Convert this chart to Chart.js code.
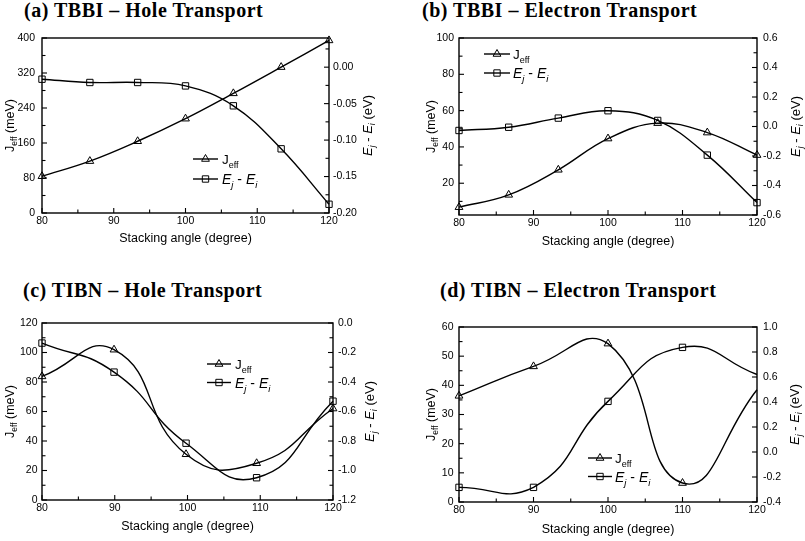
<!DOCTYPE html>
<html><head><meta charset="utf-8">
<script src="https://cdn.jsdelivr.net/npm/chart.js@4.4.0/dist/chart.umd.min.js"></script>
<style>
html,body{margin:0;padding:0;background:#fff}
body{width:805px;height:541px;overflow:hidden;position:relative;font-family:'Liberation Sans',Arial,sans-serif}
canvas{position:absolute}
.ttl{position:absolute;font-family:'Liberation Serif','Times New Roman',serif;font-weight:bold;font-size:20px;line-height:20px;letter-spacing:0.5px;white-space:nowrap;color:#000}
</style></head><body>
<div class="ttl" style="left:24px;top:0px">(a) TBBI – Hole Transport</div>
<div class="ttl" style="left:422px;top:0px">(b) TBBI – Electron Transport</div>
<div class="ttl" style="left:23px;top:280px">(c) TIBN – Hole Transport</div>
<div class="ttl" style="left:440px;top:280px">(d) TIBN – Electron Transport</div>
<canvas id="ca" width="400" height="270" style="left:0;top:0"></canvas>
<canvas id="cb" width="405" height="270" style="left:400px;top:0"></canvas>
<canvas id="cc" width="400" height="271" style="left:0;top:270px"></canvas>
<canvas id="cd" width="405" height="271" style="left:400px;top:270px"></canvas>
<script>
// ---------- data ----------
const anglesA = [80, 86.67, 93.33, 100, 106.67, 113.33, 120];
const jeffA   = [84, 118.6, 164, 215.6, 273.5, 333.5, 394.5];
const deltaEA = [-0.0165, -0.021, -0.021, -0.0257, -0.053, -0.112, -0.188];

const anglesB = [80, 86.67, 93.33, 100, 106.67, 113.33, 120];
const jeffB   = [6.8, 13.6, 27.4, 44.6, 53.1, 47.9, 35.5];
const deltaEB = [-0.027, -0.005, 0.057, 0.107, 0.041, -0.194, -0.516];

const anglesC = [80, 89.9, 99.8, 109.5, 120];
const jeffC   = [83.8, 101.9, 31.0, 24.9, 62];
const deltaEC = [-0.136, -0.333, -0.815, -1.049, -0.53];

const anglesD = [80, 90, 100, 110, 120];
const jeffD   = [36.4, 46.5, 54.3, 6.5, 38.5];
const deltaED = [-0.283, -0.283, 0.405, 0.837, 0.62];

// ---------- tick labels ----------
const xTicks    = [80, 90, 100, 110, 120];
const jeffTicksA = [0, 80, 160, 240, 320, 400];
const dETicksA   = [0.00, -0.05, -0.10, -0.15, -0.20];
const jeffTicksB = [20, 40, 60, 80, 100];
const dETicksB   = [0.6, 0.4, 0.2, 0.0, -0.2, -0.4, -0.6];
const jeffTicksC = [0, 20, 40, 60, 80, 100, 120];
const dETicksC   = [0.0, -0.2, -0.4, -0.6, -0.8, -1.0, -1.2];
const jeffTicksD = [0, 10, 20, 30, 40, 50, 60];
const dETicksD   = [1.0, 0.8, 0.6, 0.4, 0.2, 0.0, -0.2, -0.4];

const xTitle = 'Stacking angle (degree)';

// ---------- decoration plugin (frame, inner ticks, rotated axis titles, legend) ----------
function drawPieces(ctx, pieces, x, y, family) {
  let cx = x;
  for (const p of pieces) {
    ctx.font = (p.style || '') + ' ' + p.size + 'px ' + family;
    ctx.fillText(p.t, cx, y + (p.dy || 0));
    cx += ctx.measureText(p.t).width;
  }
}
function piecesWidth(ctx, pieces, family) {
  let w = 0;
  for (const p of pieces) { ctx.font = (p.style || '') + ' ' + p.size + 'px ' + family; w += ctx.measureText(p.t).width; }
  return w;
}
function marker(ctx, type, x, y, r) {
  ctx.beginPath();
  if (type === 'triangle') {
    let rad = 0;
    ctx.moveTo(x + Math.sin(rad) * r, y - Math.cos(rad) * r);
    rad += 2 * Math.PI / 3; ctx.lineTo(x + Math.sin(rad) * r, y - Math.cos(rad) * r);
    rad += 2 * Math.PI / 3; ctx.lineTo(x + Math.sin(rad) * r, y - Math.cos(rad) * r);
    ctx.closePath();
  } else {
    const s = Math.SQRT1_2 * r;
    ctx.rect(x - s, y - s, 2 * s, 2 * s);
  }
  ctx.stroke();
}
const FAM = "'Liberation Sans', Arial, sans-serif";
const leftTitle = [{t:'J',size:12.5},{t:'eff',size:8.5,dy:3},{t:' (meV)',size:12.5}];
const rightTitle = [{t:'E',size:13,style:'italic'},{t:'j',size:9,style:'italic',dy:3},{t:' - ',size:13},{t:'E',size:13,style:'italic'},{t:'i',size:9,style:'italic',dy:3},{t:' (eV)',size:13}];
const legJ = [{t:'J',size:13.5},{t:'eff',size:9,dy:4}];
const legE = [{t:'E',size:14,style:'italic'},{t:'j',size:9.5,style:'italic',dy:4},{t:' - ',size:14},{t:'E',size:14,style:'italic'},{t:'i',size:9.5,style:'italic',dy:4}];

const decor = {
  id: 'decor',
  beforeDatasetsDraw(chart, args, o) {
    const {ctx, chartArea: a, scales} = chart;
    ctx.save();
    ctx.strokeStyle = '#000';
    ctx.lineWidth = 1.4;
    ctx.strokeRect(a.left, a.top, a.right - a.left, a.bottom - a.top);
    ctx.lineWidth = 1.1;
    const seg = (x1, y1, x2, y2) => { ctx.beginPath(); ctx.moveTo(x1, y1); ctx.lineTo(x2, y2); ctx.stroke(); };
    const isMajor = (arr, v) => arr.some(t => Math.abs(t - v) < 1e-6);
    const sx = scales.x, sy = scales.y, sy1 = scales.y1;
    for (let v = Math.ceil(sx.min / o.xMinor - 1e-9) * o.xMinor; v <= sx.max + 1e-9; v += o.xMinor) {
      const p = sx.getPixelForValue(v);
      seg(p, a.bottom, p, a.bottom - (isMajor(o.xTicks, v) ? 5 : 3.5));
    }
    for (let v = Math.ceil(sy.min / o.yMinor - 1e-9) * o.yMinor; v <= sy.max + 1e-9; v += o.yMinor) {
      const p = sy.getPixelForValue(v);
      seg(a.left, p, a.left + (isMajor(o.yTicks, v) ? 5 : 3.5), p);
    }
    for (let v = Math.ceil(sy1.min / o.y1Minor - 1e-9) * o.y1Minor; v <= sy1.max + 1e-9; v += o.y1Minor) {
      const p = sy1.getPixelForValue(v);
      seg(a.right, p, a.right - (isMajor(o.y1Ticks, v) ? 5 : 3.5), p);
    }
    ctx.restore();
  },
  afterDraw(chart, args, o) {
    const {ctx, chartArea: a} = chart;
    ctx.save();
    ctx.fillStyle = '#000';
    ctx.strokeStyle = '#000';
    ctx.textBaseline = 'alphabetic';
    ctx.textAlign = 'left';
    const cy = (a.top + a.bottom) / 2;
    ctx.save();
    ctx.translate(o.leftTitleX, cy); ctx.rotate(-Math.PI / 2);
    let w = piecesWidth(ctx, leftTitle, FAM);
    drawPieces(ctx, leftTitle, -w / 2, 4.5, FAM);
    ctx.restore();
    ctx.save();
    ctx.translate(o.rightTitleX, cy); ctx.rotate(-Math.PI / 2);
    w = piecesWidth(ctx, rightTitle, FAM);
    drawPieces(ctx, rightTitle, -w / 2, 4.5, FAM);
    ctx.restore();
    const L = o.legend;
    const rows = [[legJ, 'triangle', L.y1], [legE, 'rect', L.y2]];
    for (const [pcs, mk, y] of rows) {
      ctx.lineWidth = 1.4;
      ctx.beginPath(); ctx.moveTo(L.x1, y); ctx.lineTo(L.x2, y); ctx.stroke();
      ctx.lineWidth = 1;
      marker(ctx, mk, (L.x1 + L.x2) / 2, y, 4.5);
      drawPieces(ctx, pcs, L.tx, y + 5, FAM);
    }
    ctx.restore();
  }
};

function makeChart(id, d) {
  const pts = (xs, ys) => xs.map((x, i) => ({x: x, y: ys[i]}));
  const hideLast = d.hideLast;
  const rad = (r) => (c) => (hideLast && c.dataIndex === c.dataset.data.length - 1) ? 0 : r;
  const common = {borderColor:'#000', borderWidth:1.4, pointBorderColor:'#000', pointBackgroundColor:'rgba(0,0,0,0)', pointBorderWidth:1, tension:d.tension, clip:false, fill:false};
  const tickFont = {size:10.5, family:FAM};
  return new Chart(document.getElementById(id), {
    type: 'line',
    data: {
      datasets: [
        Object.assign({label:'Jeff', data: pts(d.angles, d.jeff), yAxisID:'y', pointStyle:'triangle', pointRadius: rad(4.5)}, common),
        Object.assign({label:'Ej - Ei', data: pts(d.angles, d.dE), yAxisID:'y1', pointStyle:'rect', pointRadius: rad(4.5)}, common)
      ]
    },
    options: {
      responsive: false,
      animation: false,
      devicePixelRatio: 1,
      layout: {padding: {top: d.T, left: 0, right: 0, bottom: 0}},
      plugins: {legend: {display: false}, tooltip: {enabled: false}, decor: {
        xTicks: xTicks, yTicks: d.yTicks, y1Ticks: d.y1Ticks, xMinor: 5, yMinor: d.yMinor, y1Minor: d.y1Minor,
        leftTitleX: d.leftTitleX, rightTitleX: d.rightTitleX, legend: d.legend}},
      scales: {
        x: {type:'linear', position:'bottom', min:80, max:120,
            afterBuildTicks: s => { s.ticks = xTicks.map(v => ({value: v})); },
            ticks: {color:'#000', font:tickFont, padding:d.padX, maxRotation:0, autoSkip:false, callback: v => String(v)},
            grid: {display:false, drawTicks:false}, border: {display:false},
            title: {display:true, text:xTitle, color:'#000', font:{size:12.5, family:FAM}, padding:{top:0, bottom:d.xTitlePad}},
            afterFit: s => { s.height = d.Hx; }},
        y: {type:'linear', position:'left', min:d.yMin, max:d.yMax,
            afterBuildTicks: s => { s.ticks = d.yTicks.map(v => ({value: v})); },
            ticks: {color:'#000', font:tickFont, padding:d.padL, autoSkip:false, callback: v => String(v)},
            grid: {display:false, drawTicks:false}, border: {display:false},
            afterFit: s => { s.width = d.Wl; }},
        y1: {type:'linear', position:'right', min:d.y1Min, max:d.y1Max,
            afterBuildTicks: s => { s.ticks = d.y1Ticks.map(v => ({value: v})); },
            ticks: {color:'#000', font:tickFont, padding:d.padR, autoSkip:false, callback: v => v.toFixed(d.dec)},
            grid: {display:false, drawTicks:false}, border: {display:false},
            afterFit: s => { s.width = d.Wr; }}
      }
    },
    plugins: [decor]
  });
}

makeChart('ca', {angles:anglesA, jeff:jeffA, dE:deltaEA, yTicks:jeffTicksA, y1Ticks:dETicksA,
  yMin:0, yMax:400, y1Min:-0.20, y1Max:0.04, dec:2, yMinor:40, y1Minor:0.025, tension:0.4,
  T:38, Wl:42, Wr:71, Hx:57, padL:7, padR:4, padX:2, xTitlePad:23.5,
  leftTitleX:9, rightTitleX:367.5, legend:{x1:193, x2:218, tx:222, y1:159, y2:179}});
makeChart('cb', {angles:anglesB, jeff:jeffB, dE:deltaEB, yTicks:jeffTicksB, y1Ticks:dETicksB,
  yMin:2.5, yMax:100, y1Min:-0.6, y1Max:0.6, dec:1, yMinor:10, y1Minor:0.1, tension:0.4,
  T:38, Wl:59, Wr:48, Hx:55, padL:5, padR:6, padX:2, xTitlePad:20.8,
  leftTitleX:30, rightTitleX:395, legend:{x1:84, x2:110, tx:113, y1:54, y2:73}});
makeChart('cc', {angles:anglesC, jeff:jeffC, dE:deltaEC, yTicks:jeffTicksC, y1Ticks:dETicksC,
  yMin:0, yMax:120, y1Min:-1.2, y1Max:0, dec:1, yMinor:10, y1Minor:0.1, tension:0.5,
  T:53, Wl:42, Wr:67, Hx:41, padL:4.5, padR:5, padX:2, xTitlePad:6.8,
  leftTitleX:9, rightTitleX:369, legend:{x1:207, x2:231, tx:235, y1:94, y2:112.5}});
makeChart('cd', {angles:anglesD, jeff:jeffD, dE:deltaED, yTicks:jeffTicksD, y1Ticks:dETicksD,
  yMin:0, yMax:60, y1Min:-0.4, y1Max:1.0, dec:1, yMinor:5, y1Minor:0.2, tension:0.5, hideLast:true,
  T:57, Wl:59, Wr:48, Hx:39, padL:5.5, padR:6, padX:2, xTitlePad:3.5,
  leftTitleX:30, rightTitleX:394, legend:{x1:188, x2:212, tx:215, y1:188, y2:206.5}});
</script>
</body></html>
